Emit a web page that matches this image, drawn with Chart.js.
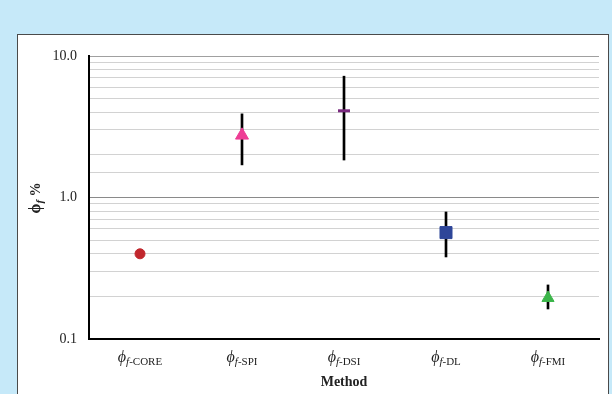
<!DOCTYPE html>
<html><head><meta charset="utf-8">
<style>html,body{margin:0;padding:0;background:#c6e9f9;}#wrap{width:612px;height:394px;position:relative;}</style>
<script src="https://cdn.jsdelivr.net/npm/chart.js@4/dist/chart.umd.min.js"></script>
</head><body><div id="wrap"><canvas id="c" width="612" height="394"></canvas></div>
<script>
const categories = ['f-CORE', 'f-SPI', 'f-DSI', 'f-DL', 'f-FMI'];
const values = [0.4, 2.75, 4.1, 0.565, 0.195];
const errLow = [null, 1.7, 1.84, 0.38, 0.163];
const errHigh = [null, 3.9, 7.2, 0.79, 0.241];
const yTickValues = [0.1, 1, 10];
const yTickLabels = ['0.1', '1.0', '10.0'];
const markerStyles = ['circle', 'triangle', 'line', 'rect', 'triangle'];
const markerColors = ['#c1272d', '#ee3d95', '#7b2a80', '#2e4699', '#3bb54a'];
const markerRadius = [5, 7.5, 6, 8.5, 7];
const markerBorder = [1, 1, 3, 1, 1];

const SERIF = '"Liberation Serif", "DejaVu Serif", serif';

const panelPlugin = {
  id: 'panel',
  beforeDraw(chart) {
    const ctx = chart.ctx;
    ctx.save();
    ctx.fillStyle = '#c6e9f9';
    ctx.fillRect(0, 0, 612, 394);
    ctx.fillStyle = '#ffffff';
    ctx.fillRect(18, 34, 591, 370);
    ctx.strokeStyle = '#4a4a4a';
    ctx.lineWidth = 1;
    ctx.strokeRect(17.5, 34.5, 591, 370);
    ctx.restore();
  },
  afterDraw(chart) {
    const ctx = chart.ctx;
    const xs = chart.scales.x;
    ctx.save();
    ctx.fillStyle = '#222';
    ctx.textBaseline = 'alphabetic';
    categories.forEach((lab, i) => {
      const cx = xs.getPixelForValue(i);
      const phiFont = 'italic 16px ' + SERIF;
      const fFont = 'italic 11px ' + SERIF;
      const restFont = '11px ' + SERIF;
      const rest = lab.slice(1);
      ctx.font = phiFont; const w1 = ctx.measureText('\u03d5').width;
      ctx.font = fFont; const w2 = ctx.measureText('f').width;
      ctx.font = restFont; const w3 = ctx.measureText(rest).width;
      let x = cx - (w1 + w2 + w3) / 2;
      const base = 362;
      ctx.textAlign = 'left';
      ctx.font = phiFont; ctx.fillText('\u03d5', x, base); x += w1;
      ctx.font = fFont; ctx.fillText('f', x, base + 3); x += w2;
      ctx.font = restFont; ctx.fillText(rest, x, base + 3);
    });
    // x title
    ctx.font = 'bold 14px ' + SERIF;
    ctx.textAlign = 'center';
    ctx.fillText('Method', xs.left + (xs.right - xs.left) / 2, 386);
    // y title rotated
    ctx.translate(40, 198);
    ctx.rotate(-Math.PI / 2);
    const p1 = 'bold 16px ' + SERIF, p2 = 'bold italic 11px ' + SERIF, p3 = 'bold 14px ' + SERIF;
    ctx.font = p1; const a = ctx.measureText('\u03d5').width;
    ctx.font = p2; const b = ctx.measureText('f').width;
    ctx.font = p3; const c = ctx.measureText(' %').width;
    let x = -(a + b + c) / 2;
    ctx.textAlign = 'left';
    ctx.font = p1; ctx.fillText('\u03d5', x, 0); x += a;
    ctx.font = p2; ctx.fillText('f', x, 3); x += b;
    ctx.font = p3; ctx.fillText(' %', x, 0);
    ctx.restore();
  }
};

new Chart(document.getElementById('c'), {
  type: 'bar',
  data: {
    labels: categories,
    datasets: [
      {
        type: 'line',
        label: 'value',
        data: values,
        showLine: false,
        order: 0,
        pointStyle: markerStyles,
        pointRadius: markerRadius,
        pointHoverRadius: markerRadius,
        pointBackgroundColor: markerColors,
        pointBorderColor: markerColors,
        pointBorderWidth: markerBorder
      },
      {
        type: 'bar',
        label: 'range',
        data: categories.map((c, i) => errLow[i] == null ? null : [errLow[i], errHigh[i]]),
        backgroundColor: '#000',
        barThickness: 2,
        order: 1
      }
    ]
  },
  options: {
    responsive: false,
    animation: false,
    devicePixelRatio: 1,
    layout: { padding: { left: 0, top: 56, right: 13, bottom: 0 } },
    plugins: { legend: { display: false }, tooltip: { enabled: false } },
    scales: {
      x: {
        type: 'category',
        offset: true,
        grid: { display: false },
        border: { display: true, color: '#000', width: 2 },
        ticks: { display: false },
        afterFit(s) { s.height = 55; }
      },
      y: {
        type: 'logarithmic',
        min: 0.1,
        max: 10,
        border: { display: true, color: '#000', width: 2 },
        grid: {
          drawTicks: false,
          color(ctx) {
            const v = ctx.tick ? ctx.tick.value : 0;
            if (Math.abs(v - 1) < 1e-9) return '#8a8a8a';
            if (Math.abs(v - 10) < 1e-9) return '#a0a0a0';
            return '#d2d2d2';
          },
          lineWidth: 1
        },
        ticks: {
          autoSkip: false,
          padding: 12,
          color: '#222',
          font: { family: SERIF, size: 14 },
          callback(v) {
            const k = yTickValues.findIndex(t => Math.abs(t - v) < 1e-9);
            return k >= 0 ? yTickLabels[k] : '';
          }
        },
        afterFit(s) { s.width = 89; }
      }
    }
  },
  plugins: [panelPlugin]
});
</script></body></html>
